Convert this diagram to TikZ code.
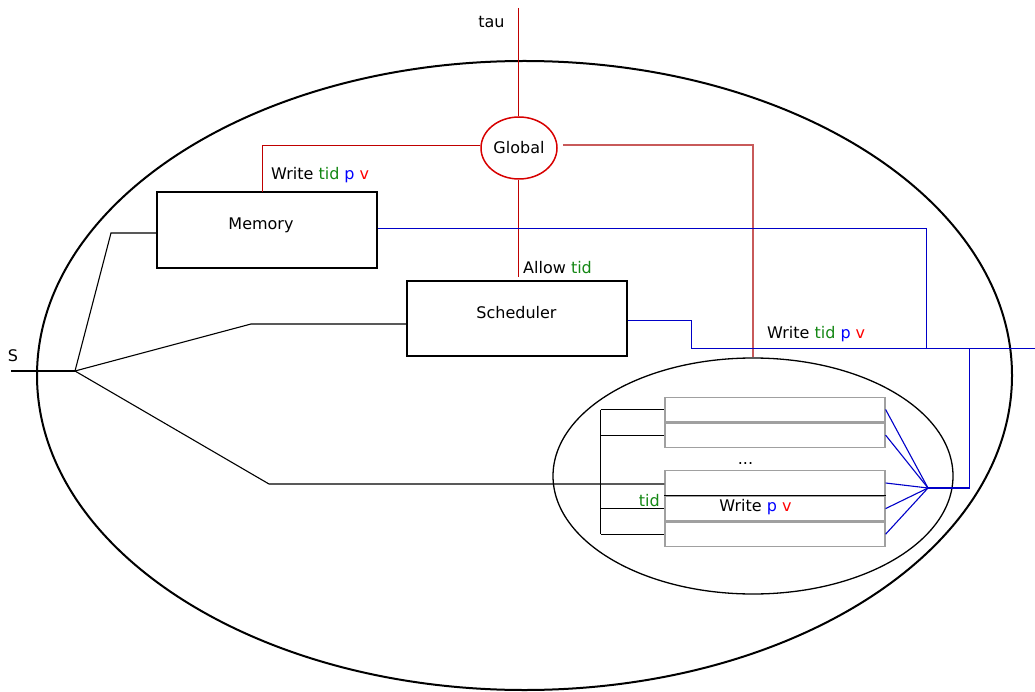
\documentclass[tikz,border=0pt]{standalone}
\usepackage{fontspec}
\setmainfont{DejaVu Sans}
\usepackage{tikz}
\usetikzlibrary{positioning,shapes.geometric}
\definecolor{tidgreen}{RGB}{20,135,20}
\definecolor{wirered}{RGB}{192,0,0}
\definecolor{globred}{RGB}{215,0,0}
\definecolor{wirepink}{RGB}{200,90,90}
\definecolor{wireblue}{RGB}{0,0,200}
\definecolor{rowgray}{RGB}{160,160,160}
\newcommand{\tidtxt}{\textcolor{tidgreen}{tid}}
\newcommand{\ptxt}{\textcolor{blue}{p}}
\newcommand{\vtxt}{\textcolor{red}{v}}

\begin{document}
\begin{tikzpicture}[x=1pt,y=-1pt,inner sep=0pt,font=\fontsize{16}{19}\selectfont,
                    box/.style={draw,line width=1.4pt,minimum width=220pt},
                    row/.style={draw=rowgray,line width=1.2pt,minimum width=220pt,minimum height=24.4pt},
                    wire/.style={draw,line width=1.1pt},
                    redwire/.style={draw=wirered,line width=1.1pt},
                    bluewire/.style={draw=wireblue,line width=1.1pt}]
    \useasboundingbox (0,0) rectangle (1035,692);
    % outer and inner worlds
    \node [draw,ellipse,line width=2pt,minimum width=975pt,minimum height=629pt] (outer) at (524.5,375.5) {};
    \node [draw,ellipse,line width=1.3pt,minimum width=400pt,minimum height=236pt] (inner) at (753,476) {};
    \node [draw=globred,ellipse,line width=1.5pt,minimum width=76pt,minimum height=62pt] (global) at (519,148) {Global};
    \node [box,minimum height=76pt] (memory) at (267,230) {};
    \node [box,minimum height=75pt] (sched) at (517,318.5) {};
    \node [anchor=base] (memlbl) at (261,229.5) {Memory};
    \node [anchor=base] (schedlbl) at (516.5,318.5) {Scheduler};
    % threads
    \node [row] (r1) at (775,409.5) {};
    \node [row] (r2) [below=0pt of r1] {};
    \node [row] (r3) at (775,483) {};
    \node [row] (r4) [below=0pt of r3] {};
    \node [row] (r5) [below=0pt of r4] {};
    \draw [line width=1.2pt] (r4.north west) -- (r4.north east);
    \node [anchor=base] (dots) at (745.5,464) {...};
    \node [anchor=base] (wpv) at (755.5,511.5) {Write \ptxt{} \vtxt};
    \node [anchor=base east] (tidlbl) at (660,506) {\tidtxt};
    % labels
    \node [anchor=base] (taulbl) at (491.5,28) {tau};
    \node [anchor=base] (slbl) at (13,361) {S};
    \node [anchor=base west] (wmemlbl) at (271,180) {Write \tidtxt{} \ptxt{} \vtxt};
    \node [anchor=base west] (allowlbl) at (523,274) {Allow \tidtxt};
    \node [anchor=base west] (wschedlbl) at (767,338) {Write \tidtxt{} \ptxt{} \vtxt};
    % bends
    \coordinate (tautop) at (518.5,8);
    \coordinate (allow) at (518.5,277);
    \coordinate (gy) at (0,145.5);
    \coordinate (gz) at (0,145);
    \coordinate (wmem) at (262.5,192);
    \coordinate (sin) at (11,371);
    \coordinate (split) at (75,371);
    \coordinate (m1) at (111,233);
    \coordinate (s1) at (251,324);
    \coordinate (t1) at (269,484);
    \coordinate (bx) at (600.5,0);
    \coordinate (outR) at (1035,348.5);
    \coordinate (mb) at (926.5,228.5);
    \coordinate (sb) at (691.5,320.5);
    \coordinate (dr) at (969.5,348);
    \coordinate (fan) at (928,488);
    % red
    \draw [redwire] (tautop) -- (tautop |- global.north);
    \draw [redwire] (tautop |- global.south) -- (allow);
    \draw [redwire] (global.west |- gy) -| (wmem);
    \draw [draw=wirepink,line width=1.4pt,shorten <=5pt] (global.east |- gz) -| (inner.north);
    % blue
    \draw [bluewire] (mb -| memory.east) -- (mb) -- (mb |- outR);
    \draw [bluewire] (sb -| sched.east) -- (sb) |- (outR);
    \draw [bluewire] (dr) |- (fan);
    \foreach \r in {r1,r2,r3,r4,r5}
        \draw [bluewire] (fan) -- (\r.east);
    % black
    \draw [wire] (sin) -- (split);
    \draw [wire] (split) -- (m1) -- (m1 -| memory.west);
    \draw [wire] (split) -- (s1) -- (s1 -| sched.west);
    \draw [wire] (split) -- (t1) -- (t1 -| r3.west);
    \draw [wire] (bx |- r1.west) -- (bx |- r5.west);
    \foreach \r in {r1,r2,r4,r5}
        \draw [wire] (bx |- \r.west) -- (\r.west);
\end{tikzpicture}
\end{document}
